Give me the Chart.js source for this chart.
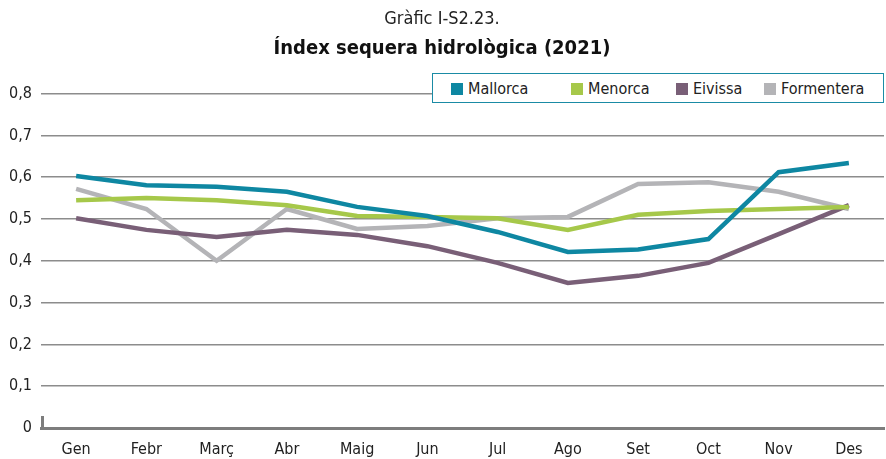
<!DOCTYPE html>
<html>
<head>
<meta charset="utf-8">
<script src="https://cdn.jsdelivr.net/npm/chart.js@4.4.1/dist/chart.umd.min.js"></script>
<style>
  html, body { margin: 0; padding: 0; background: #fff; }
  #wrap { position: relative; width: 886px; height: 459px; }
  #legend {
    position: absolute; left: 432px; top: 73px; width: 450px; height: 28px;
    border: 1.5px solid #1a8ba5; background: #fff;
    font-family: "DejaVu Sans Condensed", "DejaVu Sans", sans-serif;
    font-size: 16px; color: #222;
  }
  #legend span.item { position: absolute; top: 5px; white-space: nowrap; }
  #legend i { display: inline-block; width: 12px; height: 12px; margin-right: 5px; vertical-align: -1px; }
</style>
</head>
<body>
<div id="wrap">
  <canvas id="chart" width="886" height="459"></canvas>
  <div id="legend"></div>
</div>
<script>
const months = ['Gen', 'Febr', 'Març', 'Abr', 'Maig', 'Jun', 'Jul', 'Ago', 'Set', 'Oct', 'Nov', 'Des'];

const mallorca   = [0.603, 0.581, 0.577, 0.565, 0.529, 0.507, 0.469, 0.421, 0.427, 0.452, 0.612, 0.634];
const menorca    = [0.545, 0.550, 0.545, 0.533, 0.507, 0.505, 0.502, 0.474, 0.510, 0.519, 0.524, 0.529];
const eivissa    = [0.502, 0.474, 0.457, 0.474, 0.462, 0.435, 0.395, 0.347, 0.364, 0.395, 0.464, 0.533];
const formentera = [0.572, 0.524, 0.400, 0.524, 0.476, 0.483, 0.502, 0.505, 0.584, 0.588, 0.565, 0.524];

const yTicks = [0, 0.1, 0.2, 0.3, 0.4, 0.5, 0.6, 0.7, 0.8];

const series = [
  { name: 'Mallorca', data: mallorca, color: '#0e87a2' },
  { name: 'Menorca', data: menorca, color: '#a6c84a' },
  { name: 'Eivissa', data: eivissa, color: '#795f77' },
  { name: 'Formentera', data: formentera, color: '#b4b4b7' }
];

const fontFam = '"DejaVu Sans Condensed", "DejaVu Sans", sans-serif';

// legend in a box, sits over the plot like in the original
const legendX = [18, 138, 243, 331];
const legendEl = document.getElementById('legend');
series.forEach((s, i) => {
  const it = document.createElement('span');
  it.className = 'item';
  it.style.left = legendX[i] + 'px';
  it.innerHTML = '<i style="background:' + s.color + '"></i>' + s.name;
  legendEl.appendChild(it);
});

// little stub at the left end of the zero line
const axisStub = {
  id: 'axisStub',
  afterDraw(chart) {
    const ctx = chart.ctx;
    const y0 = chart.scales.y.getPixelForValue(0);
    const x0 = chart.chartArea.left;
    ctx.save();
    ctx.strokeStyle = '#7d7d7d';
    ctx.lineWidth = 3;
    ctx.beginPath();
    ctx.moveTo(x0 + 1.5, y0);
    ctx.lineTo(x0 + 1.5, y0 - 12);
    ctx.stroke();
    ctx.restore();
  }
};

new Chart(document.getElementById('chart'), {
  type: 'line',
  data: {
    labels: months,
    datasets: series.map(s => ({
      label: s.name,
      data: s.data,
      borderColor: s.color,
      backgroundColor: s.color,
      borderWidth: 4.5,
      pointRadius: 0,
      tension: 0,
      fill: false
    }))
  },
  options: {
    responsive: false,
    animation: false,
    layout: { padding: { right: 2, left: 0, bottom: 0 } },
    scales: {
      x: {
        offset: true,
        afterFit(scale) { scale.height = 31; },
        grid: { display: false, drawTicks: false },
        border: { display: true, color: '#7d7d7d', width: 3 },
        ticks: { color: '#222', font: { family: fontFam, size: 16 }, padding: 12, maxRotation: 0 }
      },
      y: {
        min: 0,
        max: 0.8,
        afterFit(scale) { scale.width = 41; },
        afterBuildTicks(scale) { scale.ticks = yTicks.map(v => ({ value: v })); },
        border: { display: false },
        grid: {
          color: ctx => ctx.tick && ctx.tick.value === 0 ? 'rgba(0,0,0,0)' : '#8c8c8c',
          lineWidth: 1.5,
          drawTicks: false
        },
        ticks: {
          color: '#222',
          font: { family: fontFam, size: 16 },
          padding: 9,
          callback: v => v === 0 ? '0' : v.toFixed(1).replace('.', ',')
        }
      }
    },
    plugins: {
      legend: { display: false },
      tooltip: { enabled: false },
      title: {
        display: true,
        text: 'Gràfic I-S2.23.',
        color: '#222',
        font: { family: fontFam, size: 18, weight: 'normal' },
        padding: { top: 9, bottom: 6 }
      },
      subtitle: {
        display: true,
        text: 'Índex sequera hidrològica (2021)',
        color: '#111',
        font: { family: fontFam, size: 20, weight: 'bold' },
        padding: { top: 0, bottom: 33 }
      }
    }
  },
  plugins: [axisStub]
});
</script>
</body>
</html>
